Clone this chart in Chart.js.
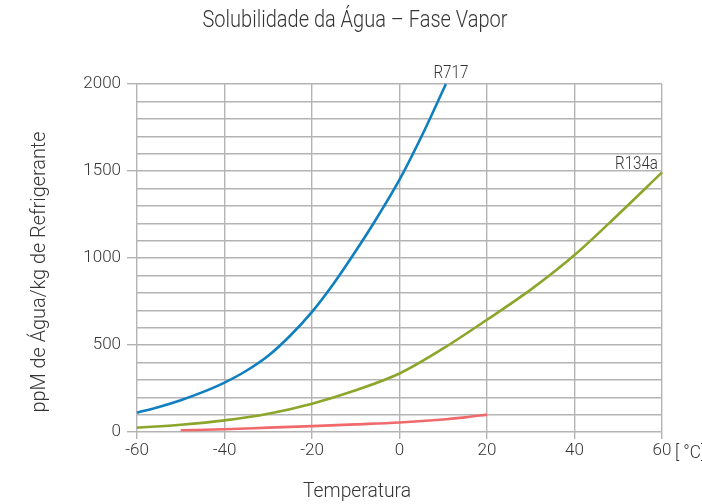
<!DOCTYPE html>
<html>
<head>
<meta charset="utf-8">
<script src="https://cdn.jsdelivr.net/npm/chart.js@4.4.1/dist/chart.umd.min.js"></script>
<style>
  html, body { margin: 0; padding: 0; background: #ffffff; }
  #wrap { position: relative; width: 702px; height: 504px; }
</style>
</head>
<body>
<div id="wrap"><canvas id="c" width="702" height="504"></canvas></div>
<script>
// ---- data ----
const chartTitle = "Solubilidade da Água – Fase Vapor";
const xTitle = "Temperatura";
const yTitle = "ppM de Água/kg de Refrigerante";
const xUnit = "[ °C]";

const seriesNames = ["R717", "R134a", ""];

const tempsR717 = [-60, -55, -50, -45, -40, -35, -30, -25, -20, -15, -10, -5, 0, 5, 10, 10.6];
const valuesR717 = [111, 144, 183, 229, 284, 352, 438, 553, 690, 855, 1040, 1237, 1450, 1697, 1967, 2000];

const tempsR134a = [-60, -50, -40, -30, -20, -10, 0, 10, 20, 30, 40, 50, 60];
const valuesR134a = [25, 42, 67, 105, 163, 240, 336, 480, 645, 818, 1017, 1250, 1492];

const tempsThird = [-50, -40, -30, -20, -10, 0, 10, 15, 20];
const valuesThird = [10, 16, 25, 34, 44, 55, 72, 84, 100];

const xMin = -60, xMax = 60, xStep = 20;
const yMin = 0, yMax = 2000, yStep = 100, yLabelStep = 500;

// ---- helpers ----
const FONT = "Roboto, 'Liberation Sans', sans-serif";
const TEXT = "#363636";
const GRID = "#b4b4b4";
const toPoints = (xs, ys) => xs.map((x, i) => ({ x: x, y: ys[i] }));

// draw text horizontally condensed to a target width
function condensedText(ctx, text, x, y, size, targetW, align) {
  ctx.font = "300 " + size + "px " + FONT;
  const w = ctx.measureText(text).width;
  const k = Math.min(1, targetW / w);
  ctx.save();
  ctx.translate(x, y);
  ctx.scale(k, 1);
  ctx.textAlign = align || "center";
  ctx.fillText(text, 0, 0);
  ctx.restore();
}

const annotatePlugin = {
  id: 'annotate',
  afterDraw(chart) {
    const ctx = chart.ctx;
    const xs = chart.scales.x, ys = chart.scales.y;
    ctx.save();
    ctx.fillStyle = TEXT;
    ctx.textBaseline = "alphabetic";
    // main title
    condensedText(ctx, chartTitle, 355, 27, 23, 305, "center");
    // x title
    condensedText(ctx, xTitle, 357, 497, 21, 108, "center");
    // y title
    ctx.save();
    ctx.translate(45, 272);
    ctx.rotate(-Math.PI / 2);
    condensedText(ctx, yTitle, 0, 0, 21, 281, "center");
    ctx.restore();
    // unit after last tick label
    condensedText(ctx, xUnit, 675, 458, 18, 30, "left");
    // series end labels
    chart.data.datasets.forEach((ds) => {
      if (!ds.label) return;
      const last = ds.data[ds.data.length - 1];
      const px = xs.getPixelForValue(last.x);
      const py = ys.getPixelForValue(last.y);
      if (last.x >= xMax) {
        condensedText(ctx, ds.label, px - 4, py - 3, 18, 43, "right");
      } else {
        condensedText(ctx, ds.label, px + 5, py - 6, 18, 35, "center");
      }
    });
    ctx.restore();
  }
};

new Chart(document.getElementById('c'), {
  type: 'line',
  data: {
    datasets: [
      { label: seriesNames[0], data: toPoints(tempsR717, valuesR717), borderColor: '#0f7fc0' },
      { label: seriesNames[1], data: toPoints(tempsR134a, valuesR134a), borderColor: '#8ba62b' },
      { label: seriesNames[2], data: toPoints(tempsThird, valuesThird), borderColor: '#f06a6c' }
    ].map(d => Object.assign(d, {
      borderWidth: 2.6,
      pointRadius: 0,
      fill: false,
      cubicInterpolationMode: 'monotone',
      clip: 4
    }))
  },
  options: {
    responsive: false,
    animation: false,
    layout: { padding: { left: 0, right: 40, top: 84, bottom: 0 } },
    plugins: { legend: { display: false }, title: { display: false }, tooltip: { enabled: false } },
    scales: {
      x: {
        type: 'linear',
        min: xMin, max: xMax,
        border: { display: false },
        grid: { color: GRID, lineWidth: 1.4, tickLength: 7, tickColor: GRID },
        ticks: { stepSize: xStep, color: TEXT, font: { family: FONT, size: 17, weight: '300' }, padding: 2, maxRotation: 0 },
        afterFit(s) { s.height = 72; }
      },
      y: {
        type: 'linear',
        min: yMin, max: yMax,
        border: { display: false },
        grid: {
          color: GRID, lineWidth: 1.4, tickLength: 10,
          tickColor: (c) => (c.tick && c.tick.value % yLabelStep === 0) ? GRID : 'rgba(0,0,0,0)'
        },
        ticks: {
          stepSize: yStep, color: TEXT, font: { family: FONT, size: 17, weight: '300' }, padding: 6,
          autoSkip: false,
          callback: (v) => (v % yLabelStep === 0 ? String(v) : '')
        },
        afterFit(s) { s.width = 137; }
      }
    }
  },
  plugins: [annotatePlugin]
});
</script>
</body>
</html>
